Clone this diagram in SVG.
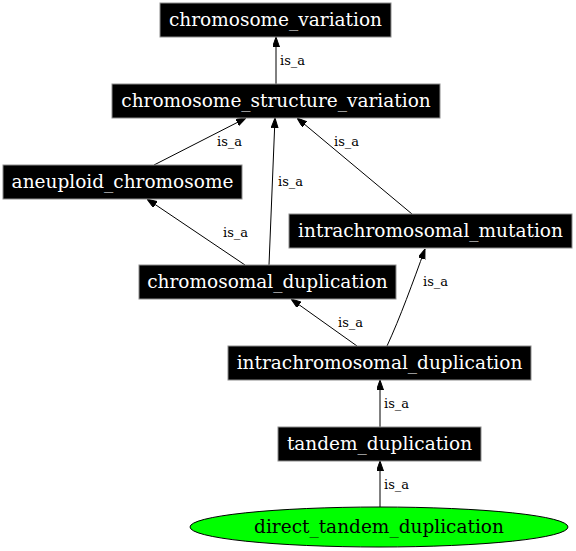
<svg xmlns="http://www.w3.org/2000/svg" width="576" height="551" viewBox="0 0 576 551">
<style>
.box{fill:#000;stroke:#8c8c8c;stroke-width:1}
.nt{font-family:"DejaVu Serif",serif;font-size:18.5px;fill:#fff;text-anchor:middle}
.nt2{font-family:"DejaVu Serif",serif;font-size:18.5px;fill:#000;text-anchor:middle}
.e{fill:none;stroke:#000;stroke-width:1;marker-end:url(#ah)}
.lb{font-family:"DejaVu Serif",serif;font-size:13px;fill:#000}
</style>
<defs>
<marker id="ah" markerUnits="userSpaceOnUse" markerWidth="10" markerHeight="8" refX="10" refY="3.5" orient="auto">
<path d="M0,0 L10,3.5 L0,7 z" fill="#000" stroke="#000" stroke-width="1"/>
</marker>
</defs>
<rect width="576" height="551" fill="#fff"/>
<g id="connectors">
<path class="e" d="M276,84 L276,37"/>
<text class="lb" x="280" y="65">is_a</text>
<path class="e" d="M154,165 L246,118"/>
<text class="lb" x="217" y="146">is_a</text>
<path class="e" d="M269,265 L275,118"/>
<text class="lb" x="278" y="186">is_a</text>
<path class="e" d="M412,214 L297,118"/>
<text class="lb" x="334" y="146">is_a</text>
<path class="e" d="M245,265 L147,199"/>
<text class="lb" x="223" y="237">is_a</text>
<path class="e" d="M357,346 L291,299"/>
<text class="lb" x="338" y="327">is_a</text>
<path class="e" d="M387,346 C400,318 413,282 425,249"/>
<text class="lb" x="423" y="286">is_a</text>
<path class="e" d="M380,427 L380,380"/>
<text class="lb" x="384" y="408">is_a</text>
<path class="e" d="M380,507 L380,461"/>
<text class="lb" x="384" y="489">is_a</text>
</g>
<g id="chromosome_variation">
<rect class="box" x="160" y="3" width="231" height="34"/>
<text class="nt" x="275.5" y="26">chromosome_variation</text>
</g>
<g id="chromosome_structure_variation">
<rect class="box" x="112" y="84" width="328" height="34"/>
<text class="nt" x="276" y="107">chromosome_structure_variation</text>
</g>
<g id="aneuploid_chromosome">
<rect class="box" x="3" y="165" width="239" height="34"/>
<text class="nt" x="122.5" y="188">aneuploid_chromosome</text>
</g>
<g id="intrachromosomal_mutation">
<rect class="box" x="289" y="214" width="283" height="34"/>
<text class="nt" x="430.5" y="237">intrachromosomal_mutation</text>
</g>
<g id="chromosomal_duplication">
<rect class="box" x="139" y="265" width="257" height="34"/>
<text class="nt" x="267.5" y="288">chromosomal_duplication</text>
</g>
<g id="intrachromosomal_duplication">
<rect class="box" x="228" y="346" width="303" height="34"/>
<text class="nt" x="379.5" y="369">intrachromosomal_duplication</text>
</g>
<g id="tandem_duplication">
<rect class="box" x="278" y="427" width="203" height="34"/>
<text class="nt" x="379.5" y="450">tandem_duplication</text>
</g>
<g id="direct_tandem_duplication">
<ellipse cx="379" cy="527" rx="189" ry="20" fill="#00ff00" stroke="#000" stroke-width="1"/>
<text class="nt2" x="379" y="533">direct_tandem_duplication</text>
</g>
</svg>
